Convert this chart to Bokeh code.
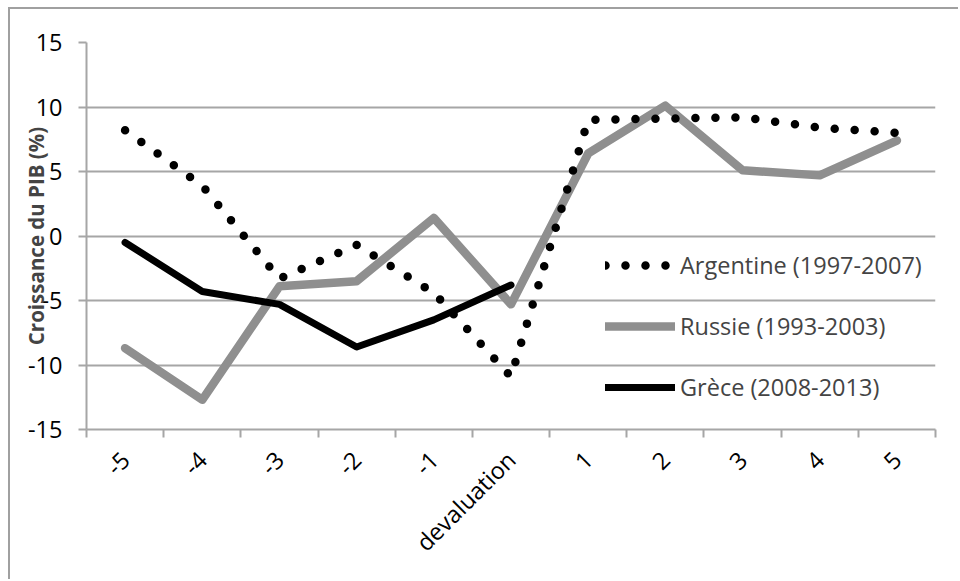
import math
from bokeh.plotting import figure
from bokeh.models import Range1d, FixedTicker, Legend, LegendItem
from bokeh.embed import file_html
from bokeh.resources import INLINE

categories = ["-5", "-4", "-3", "-2", "-1", "devaluation", "1", "2", "3", "4", "5"]
argentine = [8.2, 3.9, -3.3, -0.7, -4.4, -10.9, 9.0, 9.1, 9.2, 8.4, 8.0]
russie = [-8.7, -12.7, -3.9, -3.5, 1.4, -5.3, 6.4, 10.1, 5.1, 4.7, 7.4]
grece = [-0.5, -4.3, -5.3, -8.6, -6.5, -3.8]
y_ticks = [-15, -10, -5, 0, 5, 10, 15]

FONT = "Open Sans"
GRID = "#a6a6a6"
GRAY = "#8f8f8f"

xs = [i + 0.5 for i in range(len(categories))]

p = figure(width=950, height=572, output_backend="svg", toolbar_location=None,
           x_range=Range1d(0, len(categories)), y_range=Range1d(-15, 15),
           min_border_left=76, min_border_right=25, min_border_top=33, min_border_bottom=152,
           outline_line_color=None,
           styles={"border-left": "2px solid #a0a0a0", "border-top": "2px solid #a0a0a0",
                   "margin-left": "8px", "margin-top": "7px"})

r_rus = p.line(xs, russie, line_color=GRAY, line_width=8.5, line_join="round", line_cap="round")
r_gre = p.line(xs[:len(grece)], grece, line_color="black", line_width=7, line_join="round", line_cap="round")
r_arg = p.line(xs, argentine, line_color="black", line_width=8.5, line_dash="0 20",
               line_cap="round", line_join="round")

# x axis
p.xaxis.ticker = FixedTicker(ticks=xs, minor_ticks=list(range(len(categories) + 1)))
p.xaxis.major_label_overrides = {x: c for x, c in zip(xs, categories)}
p.xaxis.major_tick_out = 0
p.xaxis.major_tick_in = 0
p.xaxis.minor_tick_out = 8
p.xaxis.minor_tick_in = 0
p.xaxis.minor_tick_line_color = GRID
p.xaxis.minor_tick_line_width = 2
p.xaxis.axis_line_color = GRID
p.xaxis.axis_line_width = 2
p.xaxis.major_label_orientation = math.pi / 4
p.xaxis.major_label_standoff = 18
p.xaxis.major_label_text_font = FONT
p.xaxis.major_label_text_font_size = "23.5px"
p.xaxis.major_label_text_color = "black"
p.xgrid.visible = False

# y axis
p.yaxis.ticker = FixedTicker(ticks=y_ticks, minor_ticks=[])
p.yaxis.major_label_overrides = {t: str(t) for t in y_ticks}
p.yaxis.major_tick_out = 8
p.yaxis.major_tick_in = 0
p.yaxis.major_tick_line_color = GRID
p.yaxis.major_tick_line_width = 2
p.yaxis.axis_line_color = GRID
p.yaxis.axis_line_width = 2
p.yaxis.major_label_standoff = 16
p.yaxis.major_label_text_font = FONT
p.yaxis.major_label_text_font_size = "23.5px"
p.yaxis.major_label_text_color = "black"
p.yaxis.axis_label = "Croissance du PIB (%)"
p.yaxis.axis_label_text_font = FONT
p.yaxis.axis_label_text_font_style = "bold"
p.yaxis.axis_label_text_font_size = "20.5px"
p.yaxis.axis_label_standoff = -25
p.ygrid.ticker = FixedTicker(ticks=y_ticks)
p.ygrid.grid_line_color = GRID
p.ygrid.grid_line_width = 2

legend = Legend(items=[
    LegendItem(label="Argentine (1997-2007)", renderers=[r_arg]),
    LegendItem(label="Russie (1993-2003)", renderers=[r_rus]),
    LegendItem(label="Grèce (2008-2013)", renderers=[r_gre]),
], location=(519, 26), padding=0, margin=0, border_line_color=None,
   background_fill_alpha=0, glyph_width=70, glyph_height=20, label_height=20,
   spacing=29, label_standoff=5, label_text_font=FONT, label_text_font_size="23.5px")
p.add_layout(legend)

open("out.html", "w").write(file_html(p, INLINE))
